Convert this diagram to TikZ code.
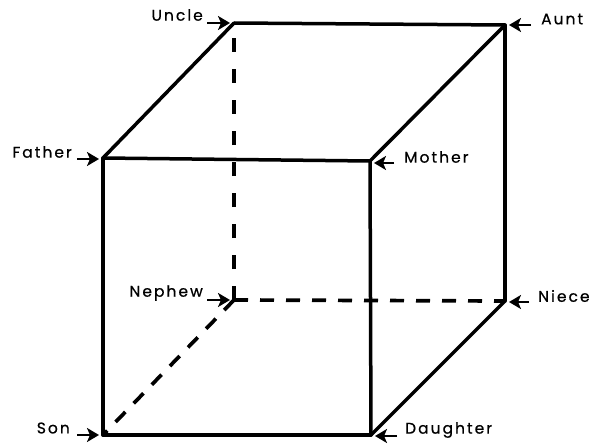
\documentclass[tikz,border=0pt]{standalone}
\usepackage{fontspec}
\setmainfont{Poppins}[LetterSpace=13,FakeBold=0.6]
\usetikzlibrary{positioning,arrows.meta}
\tikzset{
  solidline/.style={line width=3.5pt, line cap=round},
  hiddenline/.style={line width=3.7pt, dash pattern=on 14pt off #1},
  pointer/.style={-{Stealth[length=12pt,width=14pt,inset=3pt]}, line width=2.2pt, shorten >=4pt},
  kin/.style={font=\fontsize{15.5pt}{17pt}\selectfont, inner sep=0pt}
}
\begin{document}
\begin{tikzpicture}[x=1pt, y=-1pt, node distance=30pt]
\useasboundingbox (0,0) rectangle (595,444);
\coordinate (uncle) at (234,23);
\coordinate (aunt) at (505,25);
\coordinate (father) at (103,158);
\coordinate (mother) at (370,161);
\coordinate (nephew) at (234,300);
\coordinate (niece) at (505,301);
\coordinate (son) at (103,435);
\coordinate (daughter) at (371,435);
\node[kin, left=31pt of uncle, yshift=8pt] (Uncle) {Uncle};
\node[kin, right=36pt of aunt, yshift=6pt] (Aunt) {Aunt};
\node[kin, left=31pt of father, yshift=6pt] (Father) {Father};
\node[kin, right=34pt of mother, yshift=4pt] (Mother) {Mother};
\node[kin, left=31pt of nephew, yshift=7pt] (Nephew) {Nephew};
\node[kin, right=33pt of niece, yshift=5pt] (Niece) {Niece};
\node[kin, left=33pt of son, yshift=7pt] (Son) {Son};
\node[kin, right=34pt of daughter, yshift=5pt] (Daughter) {Daughter};
\draw[hiddenline=17pt] (nephew) -- (uncle);
\draw[hiddenline=12pt] (nephew) -- (niece);
\draw[hiddenline=12pt] (nephew) -- (son);
\draw[solidline] (father) -- (uncle);
\draw[solidline] (uncle) -- (aunt);
\draw[solidline] (aunt) -- (mother);
\draw[solidline] (father) -- (mother);
\draw[solidline] (aunt) -- (niece);
\draw[solidline] (father) -- (son);
\draw[solidline] (mother) -- (daughter);
\draw[solidline] (son) -- (daughter);
\draw[solidline] (daughter) -- (niece);
\draw[pointer] (Uncle.east |- uncle) ++(4,0) -- (uncle);
\draw[pointer] (Father.east |- father) ++(5,1) -- ([yshift=-1pt]father);
\draw[pointer] (Nephew.east |- nephew) ++(4,0) -- (nephew);
\draw[pointer] (Son.east |- son) ++(7,0) -- (son);
\draw[pointer] (Aunt.west |- aunt) ++(-10,0) -- (aunt);
\draw[pointer] (Mother.west |- mother) ++(-10,2) -- ([yshift=-2pt]mother);
\draw[pointer] (Niece.west |- niece) ++(-9,1) -- ([yshift=-1pt]niece);
\draw[pointer] (Daughter.west |- daughter) ++(-8,1) -- ([yshift=-1pt]daughter);
\end{tikzpicture}
\end{document}
